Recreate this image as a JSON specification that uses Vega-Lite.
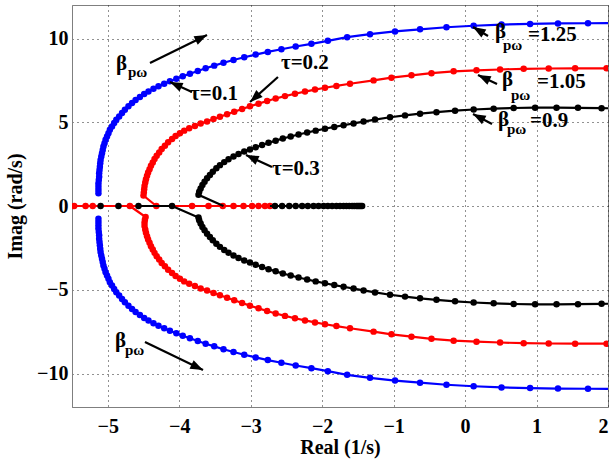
{
  "$schema": "https://vega.github.io/schema/vega-lite/v6.json",
  "width": 536,
  "height": 402,
  "autosize": "none",
  "padding": {"left": 72, "top": 5, "right": 4, "bottom": 52},
  "background": "white",
  "config": {
    "font": "Liberation Serif",
    "view": {"stroke": "#7f7f7f", "strokeWidth": 1},
    "axis": {
      "labelFont": "Liberation Serif", "labelFontWeight": "bold", "labelFontSize": 20, "labelColor": "#000",
      "titleFont": "Liberation Serif", "titleFontWeight": "bold", "titleFontSize": 20, "titleColor": "#000",
      "grid": true, "gridColor": "#222", "gridDash": [1, 4], "gridWidth": 1,
      "domainColor": "#7f7f7f", "ticks": false
    }
  },
  "datasets": {
    "loci": [
      {"s":"b","g":"bu","x":-5.13,"y":0.76},{"s":"b","g":"bu","x":-5.13,"y":0.95},{"s":"b","g":"bu","x":-5.13,"y":1.15},{"s":"b","g":"bu","x":-5.13,"y":1.35},{"s":"b","g":"bu","x":-5.125,"y":1.55},{"s":"b","g":"bu","x":-5.12,"y":1.75},{"s":"b","g":"bu","x":-5.12,"y":1.95},{"s":"b","g":"bu","x":-5.115,"y":2.15},{"s":"b","g":"bu","x":-5.11,"y":2.35},{"s":"b","g":"bu","x":-5.105,"y":2.55},{"s":"b","g":"bu","x":-5.1,"y":2.75},{"s":"b","g":"bu","x":-5.09,"y":2.95},{"s":"b","g":"bu","x":-5.08,"y":3.15},{"s":"b","g":"bu","x":-5.07,"y":3.35},{"s":"b","g":"bu","x":-5.06,"y":3.55},{"s":"b","g":"bu","x":-5.045,"y":3.75},{"s":"b","g":"bu","x":-5.03,"y":3.95},{"s":"b","g":"bu","x":-5.01,"y":4.15},{"s":"b","g":"bu","x":-4.99,"y":4.35},{"s":"b","g":"bu","x":-4.97,"y":4.55},{"s":"b","g":"bu","x":-4.94,"y":4.75},{"s":"b","g":"bu","x":-4.91,"y":4.95},{"s":"b","g":"bu","x":-4.88,"y":5.15},{"s":"b","g":"bu","x":-4.84,"y":5.35},{"s":"b","g":"bu","x":-4.8,"y":5.55},{"s":"b","g":"bu","x":-4.76,"y":5.75},{"s":"b","g":"bu","x":-4.71,"y":5.95},{"s":"b","g":"bu","x":-4.66,"y":6.15},{"s":"b","g":"bu","x":-4.61,"y":6.33},{"s":"b","g":"bu","x":-4.55,"y":6.51},{"s":"b","g":"bu","x":-4.49,"y":6.68},{"s":"b","g":"bu","x":-4.43,"y":6.84},{"s":"b","g":"bu","x":-4.36,"y":7.0},{"s":"b","g":"bu","x":-4.29,"y":7.15},{"s":"b","g":"bu","x":-4.21,"y":7.3},{"s":"b","g":"bu","x":-4.13,"y":7.45},{"s":"b","g":"bu","x":-4.04,"y":7.6},{"s":"b","g":"bu","x":-3.95,"y":7.75},{"s":"b","g":"bu","x":-3.85,"y":7.9},{"s":"b","g":"bu","x":-3.74,"y":8.06},{"s":"b","g":"bu","x":-3.63,"y":8.22},{"s":"b","g":"bu","x":-3.51,"y":8.38},{"s":"b","g":"bu","x":-3.38,"y":8.55},{"s":"b","g":"bu","x":-3.24,"y":8.72},{"s":"b","g":"bu","x":-3.09,"y":8.88},{"s":"b","g":"bu","x":-2.93,"y":9.04},{"s":"b","g":"bu","x":-2.76,"y":9.2},{"s":"b","g":"bu","x":-2.57,"y":9.36},{"s":"b","g":"bu","x":-2.37,"y":9.52},{"s":"b","g":"bu","x":-2.15,"y":9.68},{"s":"b","g":"bu","x":-1.92,"y":9.86},{"s":"b","g":"bu","x":-1.65,"y":10.08},{"s":"b","g":"bu","x":-1.33,"y":10.26},{"s":"b","g":"bu","x":-0.98,"y":10.42},{"s":"b","g":"bu","x":-0.63,"y":10.55},{"s":"b","g":"bu","x":-0.26,"y":10.67},{"s":"b","g":"bu","x":0.12,"y":10.76},{"s":"b","g":"bu","x":0.51,"y":10.83},{"s":"b","g":"bu","x":0.91,"y":10.87},{"s":"b","g":"bu","x":1.3,"y":10.9},{"s":"b","g":"bu","x":1.72,"y":10.91},{"s":"b","g":"bu","x":2.12,"y":10.92},

      {"s":"b","g":"bl","x":-5.13,"y":-0.76},{"s":"b","g":"bl","x":-5.13,"y":-0.95},{"s":"b","g":"bl","x":-5.13,"y":-1.15},{"s":"b","g":"bl","x":-5.13,"y":-1.35},{"s":"b","g":"bl","x":-5.125,"y":-1.55},{"s":"b","g":"bl","x":-5.12,"y":-1.75},{"s":"b","g":"bl","x":-5.12,"y":-1.95},{"s":"b","g":"bl","x":-5.115,"y":-2.15},{"s":"b","g":"bl","x":-5.11,"y":-2.35},{"s":"b","g":"bl","x":-5.105,"y":-2.55},{"s":"b","g":"bl","x":-5.1,"y":-2.75},{"s":"b","g":"bl","x":-5.09,"y":-2.95},{"s":"b","g":"bl","x":-5.08,"y":-3.15},{"s":"b","g":"bl","x":-5.07,"y":-3.35},{"s":"b","g":"bl","x":-5.06,"y":-3.55},{"s":"b","g":"bl","x":-5.045,"y":-3.75},{"s":"b","g":"bl","x":-5.03,"y":-3.95},{"s":"b","g":"bl","x":-5.01,"y":-4.15},{"s":"b","g":"bl","x":-4.99,"y":-4.35},{"s":"b","g":"bl","x":-4.97,"y":-4.55},{"s":"b","g":"bl","x":-4.94,"y":-4.75},{"s":"b","g":"bl","x":-4.91,"y":-4.95},{"s":"b","g":"bl","x":-4.88,"y":-5.15},{"s":"b","g":"bl","x":-4.84,"y":-5.35},{"s":"b","g":"bl","x":-4.8,"y":-5.55},{"s":"b","g":"bl","x":-4.76,"y":-5.75},{"s":"b","g":"bl","x":-4.71,"y":-5.95},{"s":"b","g":"bl","x":-4.66,"y":-6.15},{"s":"b","g":"bl","x":-4.61,"y":-6.33},{"s":"b","g":"bl","x":-4.55,"y":-6.51},{"s":"b","g":"bl","x":-4.49,"y":-6.68},{"s":"b","g":"bl","x":-4.43,"y":-6.84},{"s":"b","g":"bl","x":-4.36,"y":-7.0},{"s":"b","g":"bl","x":-4.29,"y":-7.15},{"s":"b","g":"bl","x":-4.21,"y":-7.3},{"s":"b","g":"bl","x":-4.13,"y":-7.45},{"s":"b","g":"bl","x":-4.04,"y":-7.6},{"s":"b","g":"bl","x":-3.95,"y":-7.75},{"s":"b","g":"bl","x":-3.85,"y":-7.9},{"s":"b","g":"bl","x":-3.74,"y":-8.06},{"s":"b","g":"bl","x":-3.63,"y":-8.22},{"s":"b","g":"bl","x":-3.51,"y":-8.38},{"s":"b","g":"bl","x":-3.38,"y":-8.55},{"s":"b","g":"bl","x":-3.24,"y":-8.72},{"s":"b","g":"bl","x":-3.09,"y":-8.88},{"s":"b","g":"bl","x":-2.93,"y":-9.04},{"s":"b","g":"bl","x":-2.76,"y":-9.2},{"s":"b","g":"bl","x":-2.57,"y":-9.36},{"s":"b","g":"bl","x":-2.37,"y":-9.52},{"s":"b","g":"bl","x":-2.15,"y":-9.68},{"s":"b","g":"bl","x":-1.92,"y":-9.86},{"s":"b","g":"bl","x":-1.65,"y":-10.08},{"s":"b","g":"bl","x":-1.33,"y":-10.26},{"s":"b","g":"bl","x":-0.98,"y":-10.42},{"s":"b","g":"bl","x":-0.63,"y":-10.55},{"s":"b","g":"bl","x":-0.26,"y":-10.67},{"s":"b","g":"bl","x":0.12,"y":-10.76},{"s":"b","g":"bl","x":0.51,"y":-10.83},{"s":"b","g":"bl","x":0.91,"y":-10.87},{"s":"b","g":"bl","x":1.3,"y":-10.9},{"s":"b","g":"bl","x":1.72,"y":-10.91},{"s":"b","g":"bl","x":2.12,"y":-10.92},

      {"s":"r","g":"ra","x":-5.62,"y":0,"nd":1},{"s":"r","g":"ra","x":-5.47,"y":0},{"s":"r","g":"ra","x":-5.31,"y":0},{"s":"r","g":"ra","x":-5.21,"y":0},{"s":"r","g":"ra","x":-4.69,"y":0},{"s":"r","g":"ra","x":-4.32,"y":0},{"s":"r","g":"ra","x":-3.82,"y":0},{"s":"r","g":"ra","x":-3.59,"y":0},{"s":"r","g":"ra","x":-3.39,"y":0},{"s":"r","g":"ra","x":-3.24,"y":0},{"s":"r","g":"ra","x":-3.1,"y":0},{"s":"r","g":"ra","x":-2.98,"y":0},{"s":"r","g":"ra","x":-2.89,"y":0},{"s":"r","g":"ra","x":-2.8,"y":0},{"s":"r","g":"ra","x":-2.73,"y":0},

      {"s":"r","g":"ru","x":-4.32,"y":0,"nd":1},{"s":"r","g":"ru","x":-4.5,"y":0.62},{"s":"r","g":"ru","x":-4.495,"y":0.8},{"s":"r","g":"ru","x":-4.49,"y":1.0},{"s":"r","g":"ru","x":-4.485,"y":1.2},{"s":"r","g":"ru","x":-4.475,"y":1.4},{"s":"r","g":"ru","x":-4.465,"y":1.6},{"s":"r","g":"ru","x":-4.45,"y":1.8},{"s":"r","g":"ru","x":-4.435,"y":2.0},{"s":"r","g":"ru","x":-4.415,"y":2.2},{"s":"r","g":"ru","x":-4.395,"y":2.4},{"s":"r","g":"ru","x":-4.37,"y":2.6},{"s":"r","g":"ru","x":-4.345,"y":2.8},{"s":"r","g":"ru","x":-4.315,"y":3.0},{"s":"r","g":"ru","x":-4.28,"y":3.2},{"s":"r","g":"ru","x":-4.245,"y":3.4},{"s":"r","g":"ru","x":-4.2,"y":3.6},{"s":"r","g":"ru","x":-4.155,"y":3.8},{"s":"r","g":"ru","x":-4.1,"y":4.0},{"s":"r","g":"ru","x":-4.05,"y":4.18},{"s":"r","g":"ru","x":-3.99,"y":4.35},{"s":"r","g":"ru","x":-3.93,"y":4.5},{"s":"r","g":"ru","x":-3.86,"y":4.64},{"s":"r","g":"ru","x":-3.78,"y":4.78},{"s":"r","g":"ru","x":-3.7,"y":4.92},{"s":"r","g":"ru","x":-3.61,"y":5.05},{"s":"r","g":"ru","x":-3.52,"y":5.19},{"s":"r","g":"ru","x":-3.43,"y":5.33},{"s":"r","g":"ru","x":-3.33,"y":5.48},{"s":"r","g":"ru","x":-3.23,"y":5.63},{"s":"r","g":"ru","x":-3.12,"y":5.79},{"s":"r","g":"ru","x":-3.01,"y":5.95},{"s":"r","g":"ru","x":-2.89,"y":6.11},{"s":"r","g":"ru","x":-2.77,"y":6.27},{"s":"r","g":"ru","x":-2.65,"y":6.42},{"s":"r","g":"ru","x":-2.52,"y":6.56},{"s":"r","g":"ru","x":-2.38,"y":6.7},{"s":"r","g":"ru","x":-2.24,"y":6.83},{"s":"r","g":"ru","x":-2.1,"y":6.95},{"s":"r","g":"ru","x":-1.96,"y":7.06},{"s":"r","g":"ru","x":-1.8,"y":7.17},{"s":"r","g":"ru","x":-1.61,"y":7.3},{"s":"r","g":"ru","x":-1.28,"y":7.5},{"s":"r","g":"ru","x":-1.03,"y":7.66},{"s":"r","g":"ru","x":-0.75,"y":7.8},{"s":"r","g":"ru","x":-0.47,"y":7.93},{"s":"r","g":"ru","x":-0.16,"y":8.04},{"s":"r","g":"ru","x":0.16,"y":8.1},{"s":"r","g":"ru","x":0.49,"y":8.15},{"s":"r","g":"ru","x":0.82,"y":8.19},{"s":"r","g":"ru","x":1.17,"y":8.21},{"s":"r","g":"ru","x":1.54,"y":8.22},{"s":"r","g":"ru","x":1.98,"y":8.22},{"s":"r","g":"ru","x":2.4,"y":8.22},

      {"s":"r","g":"rl","x":-4.69,"y":0,"nd":1},{"s":"r","g":"rl","x":-4.47,"y":-0.66},{"s":"r","g":"rl","x":-4.48,"y":-0.82},{"s":"r","g":"rl","x":-4.485,"y":-1.0},{"s":"r","g":"rl","x":-4.485,"y":-1.2},{"s":"r","g":"rl","x":-4.475,"y":-1.4},{"s":"r","g":"rl","x":-4.465,"y":-1.6},{"s":"r","g":"rl","x":-4.45,"y":-1.8},{"s":"r","g":"rl","x":-4.435,"y":-2.0},{"s":"r","g":"rl","x":-4.415,"y":-2.2},{"s":"r","g":"rl","x":-4.395,"y":-2.4},{"s":"r","g":"rl","x":-4.37,"y":-2.6},{"s":"r","g":"rl","x":-4.345,"y":-2.8},{"s":"r","g":"rl","x":-4.315,"y":-3.0},{"s":"r","g":"rl","x":-4.28,"y":-3.2},{"s":"r","g":"rl","x":-4.245,"y":-3.4},{"s":"r","g":"rl","x":-4.2,"y":-3.6},{"s":"r","g":"rl","x":-4.155,"y":-3.8},{"s":"r","g":"rl","x":-4.1,"y":-4.0},{"s":"r","g":"rl","x":-4.05,"y":-4.18},{"s":"r","g":"rl","x":-3.99,"y":-4.35},{"s":"r","g":"rl","x":-3.93,"y":-4.5},{"s":"r","g":"rl","x":-3.86,"y":-4.64},{"s":"r","g":"rl","x":-3.78,"y":-4.78},{"s":"r","g":"rl","x":-3.7,"y":-4.92},{"s":"r","g":"rl","x":-3.61,"y":-5.05},{"s":"r","g":"rl","x":-3.52,"y":-5.19},{"s":"r","g":"rl","x":-3.43,"y":-5.33},{"s":"r","g":"rl","x":-3.33,"y":-5.48},{"s":"r","g":"rl","x":-3.23,"y":-5.63},{"s":"r","g":"rl","x":-3.12,"y":-5.79},{"s":"r","g":"rl","x":-3.01,"y":-5.95},{"s":"r","g":"rl","x":-2.89,"y":-6.11},{"s":"r","g":"rl","x":-2.77,"y":-6.27},{"s":"r","g":"rl","x":-2.65,"y":-6.42},{"s":"r","g":"rl","x":-2.52,"y":-6.56},{"s":"r","g":"rl","x":-2.38,"y":-6.7},{"s":"r","g":"rl","x":-2.24,"y":-6.83},{"s":"r","g":"rl","x":-2.1,"y":-6.95},{"s":"r","g":"rl","x":-1.96,"y":-7.06},{"s":"r","g":"rl","x":-1.8,"y":-7.17},{"s":"r","g":"rl","x":-1.61,"y":-7.3},{"s":"r","g":"rl","x":-1.28,"y":-7.5},{"s":"r","g":"rl","x":-1.03,"y":-7.66},{"s":"r","g":"rl","x":-0.75,"y":-7.8},{"s":"r","g":"rl","x":-0.47,"y":-7.93},{"s":"r","g":"rl","x":-0.16,"y":-8.04},{"s":"r","g":"rl","x":0.16,"y":-8.1},{"s":"r","g":"rl","x":0.49,"y":-8.15},{"s":"r","g":"rl","x":0.82,"y":-8.19},{"s":"r","g":"rl","x":1.17,"y":-8.21},{"s":"r","g":"rl","x":1.54,"y":-8.22},{"s":"r","g":"rl","x":1.98,"y":-8.22},{"s":"r","g":"rl","x":2.4,"y":-8.22},

      {"s":"k","g":"ka0","x":-5.1,"y":0},{"s":"k","g":"ka1","x":-4.85,"y":0},{"s":"k","g":"ka2","x":-4.57,"y":0},{"s":"k","g":"ka2","x":-4.1,"y":0},
      {"s":"k","g":"ka3","x":-2.73,"y":0,"nd":1},{"s":"k","g":"ka3","x":-2.66,"y":0},{"s":"k","g":"ka3","x":-2.56,"y":0},{"s":"k","g":"ka3","x":-2.46,"y":0},{"s":"k","g":"ka3","x":-2.37,"y":0},{"s":"k","g":"ka3","x":-2.28,"y":0},{"s":"k","g":"ka3","x":-2.2,"y":0},{"s":"k","g":"ka3","x":-2.12,"y":0},{"s":"k","g":"ka3","x":-2.05,"y":0},{"s":"k","g":"ka3","x":-1.98,"y":0},{"s":"k","g":"ka3","x":-1.92,"y":0},{"s":"k","g":"ka3","x":-1.86,"y":0},{"s":"k","g":"ka3","x":-1.8,"y":0},{"s":"k","g":"ka3","x":-1.75,"y":0},{"s":"k","g":"ka3","x":-1.7,"y":0},{"s":"k","g":"ka3","x":-1.66,"y":0},{"s":"k","g":"ka3","x":-1.62,"y":0},{"s":"k","g":"ka3","x":-1.58,"y":0},{"s":"k","g":"ka3","x":-1.55,"y":0},{"s":"k","g":"ka3","x":-1.52,"y":0},{"s":"k","g":"ka3","x":-1.5,"y":0},{"s":"k","g":"ka3","x":-1.48,"y":0},{"s":"k","g":"ka3","x":-1.46,"y":0},{"s":"k","g":"ka3","x":-1.44,"y":0},

      {"s":"k","g":"ku","x":-3.38,"y":0,"nd":1},{"s":"k","g":"ku","x":-3.73,"y":0.67},{"s":"k","g":"ku","x":-3.72,"y":0.85},{"s":"k","g":"ku","x":-3.7,"y":1.05},{"s":"k","g":"ku","x":-3.675,"y":1.25},{"s":"k","g":"ku","x":-3.645,"y":1.45},{"s":"k","g":"ku","x":-3.61,"y":1.65},{"s":"k","g":"ku","x":-3.57,"y":1.85},{"s":"k","g":"ku","x":-3.53,"y":2.05},{"s":"k","g":"ku","x":-3.48,"y":2.25},{"s":"k","g":"ku","x":-3.43,"y":2.44},{"s":"k","g":"ku","x":-3.37,"y":2.62},{"s":"k","g":"ku","x":-3.31,"y":2.79},{"s":"k","g":"ku","x":-3.24,"y":2.95},{"s":"k","g":"ku","x":-3.17,"y":3.1},{"s":"k","g":"ku","x":-3.09,"y":3.25},{"s":"k","g":"ku","x":-3.01,"y":3.38},{"s":"k","g":"ku","x":-2.93,"y":3.51},{"s":"k","g":"ku","x":-2.84,"y":3.64},{"s":"k","g":"ku","x":-2.75,"y":3.77},{"s":"k","g":"ku","x":-2.65,"y":3.9},{"s":"k","g":"ku","x":-2.55,"y":4.03},{"s":"k","g":"ku","x":-2.44,"y":4.15},{"s":"k","g":"ku","x":-2.33,"y":4.27},{"s":"k","g":"ku","x":-2.21,"y":4.39},{"s":"k","g":"ku","x":-2.09,"y":4.5},{"s":"k","g":"ku","x":-1.96,"y":4.61},{"s":"k","g":"ku","x":-1.83,"y":4.72},{"s":"k","g":"ku","x":-1.7,"y":4.82},{"s":"k","g":"ku","x":-1.56,"y":4.93},{"s":"k","g":"ku","x":-1.42,"y":5.04},{"s":"k","g":"ku","x":-1.26,"y":5.16},{"s":"k","g":"ku","x":-1.05,"y":5.3},{"s":"k","g":"ku","x":-0.84,"y":5.41},{"s":"k","g":"ku","x":-0.63,"y":5.51},{"s":"k","g":"ku","x":-0.4,"y":5.6},{"s":"k","g":"ku","x":-0.14,"y":5.69},{"s":"k","g":"ku","x":0.12,"y":5.76},{"s":"k","g":"ku","x":0.4,"y":5.81},{"s":"k","g":"ku","x":0.68,"y":5.85},{"s":"k","g":"ku","x":0.98,"y":5.87},{"s":"k","g":"ku","x":1.28,"y":5.87},{"s":"k","g":"ku","x":1.58,"y":5.86},{"s":"k","g":"ku","x":1.91,"y":5.84},{"s":"k","g":"ku","x":2.25,"y":5.82},

      {"s":"k","g":"kl","x":-4.1,"y":0,"nd":1},{"s":"k","g":"kl","x":-3.73,"y":-0.69},{"s":"k","g":"kl","x":-3.72,"y":-0.85},{"s":"k","g":"kl","x":-3.7,"y":-1.05},{"s":"k","g":"kl","x":-3.675,"y":-1.25},{"s":"k","g":"kl","x":-3.645,"y":-1.45},{"s":"k","g":"kl","x":-3.61,"y":-1.65},{"s":"k","g":"kl","x":-3.57,"y":-1.85},{"s":"k","g":"kl","x":-3.53,"y":-2.05},{"s":"k","g":"kl","x":-3.48,"y":-2.25},{"s":"k","g":"kl","x":-3.43,"y":-2.44},{"s":"k","g":"kl","x":-3.37,"y":-2.62},{"s":"k","g":"kl","x":-3.31,"y":-2.79},{"s":"k","g":"kl","x":-3.24,"y":-2.95},{"s":"k","g":"kl","x":-3.17,"y":-3.1},{"s":"k","g":"kl","x":-3.09,"y":-3.25},{"s":"k","g":"kl","x":-3.01,"y":-3.38},{"s":"k","g":"kl","x":-2.93,"y":-3.51},{"s":"k","g":"kl","x":-2.84,"y":-3.64},{"s":"k","g":"kl","x":-2.75,"y":-3.77},{"s":"k","g":"kl","x":-2.65,"y":-3.9},{"s":"k","g":"kl","x":-2.55,"y":-4.03},{"s":"k","g":"kl","x":-2.44,"y":-4.15},{"s":"k","g":"kl","x":-2.33,"y":-4.27},{"s":"k","g":"kl","x":-2.21,"y":-4.39},{"s":"k","g":"kl","x":-2.09,"y":-4.5},{"s":"k","g":"kl","x":-1.96,"y":-4.61},{"s":"k","g":"kl","x":-1.83,"y":-4.72},{"s":"k","g":"kl","x":-1.7,"y":-4.82},{"s":"k","g":"kl","x":-1.56,"y":-4.93},{"s":"k","g":"kl","x":-1.42,"y":-5.04},{"s":"k","g":"kl","x":-1.26,"y":-5.16},{"s":"k","g":"kl","x":-1.05,"y":-5.3},{"s":"k","g":"kl","x":-0.84,"y":-5.41},{"s":"k","g":"kl","x":-0.63,"y":-5.51},{"s":"k","g":"kl","x":-0.4,"y":-5.6},{"s":"k","g":"kl","x":-0.14,"y":-5.69},{"s":"k","g":"kl","x":0.12,"y":-5.76},{"s":"k","g":"kl","x":0.4,"y":-5.81},{"s":"k","g":"kl","x":0.68,"y":-5.85},{"s":"k","g":"kl","x":0.98,"y":-5.87},{"s":"k","g":"kl","x":1.28,"y":-5.87},{"s":"k","g":"kl","x":1.58,"y":-5.86},{"s":"k","g":"kl","x":1.91,"y":-5.84},{"s":"k","g":"kl","x":2.25,"y":-5.82}
    ],
    "arrows": [
      {"x":-4.409,"y":8.54,"tx":-3.611,"ty":10.21,"a":-26.2},
      {"x":-3.821,"y":6.81,"tx":-4.129,"ty":7.4,"a":-155.6},
      {"x":-2.618,"y":7.7,"tx":-3.009,"ty":6.21,"a":138.2},
      {"x":-2.702,"y":2.33,"tx":-3.065,"ty":3.04,"a":-155.2},
      {"x":0.321,"y":10.15,"tx":0.111,"ty":10.69,"a":-149},
      {"x":0.447,"y":7.28,"tx":0.181,"ty":7.82,"a":-154.7},
      {"x":0.377,"y":4.9,"tx":0.111,"ty":5.49,"a":-152.2},
      {"x":-4.479,"y":-8.12,"tx":-3.667,"ty":-9.79,"a":25.8}
    ],
    "labels": [
      {"t":"β","x":-4.884,"y":8.12},
      {"t":"τ=0.1","x":-3.849,"y":6.33},
      {"t":"τ=0.2","x":-2.576,"y":8.18},
      {"t":"τ=0.3","x":-2.702,"y":1.85},
      {"t":"β","x":0.419,"y":10.03},
      {"t":"=1.25","x":0.881,"y":9.85},
      {"t":"β","x":0.517,"y":7.16},
      {"t":"=1.05","x":1.006,"y":7.04},
      {"t":"β","x":0.461,"y":4.78},
      {"t":"=0.9","x":0.909,"y":4.72},
      {"t":"β","x":-4.898,"y":-8.42}
    ],
    "subs": [
      {"t":"pω","x":-4.716,"y":7.7},
      {"t":"pω","x":0.531,"y":9.31},
      {"t":"pω","x":0.643,"y":6.33},
      {"t":"pω","x":0.587,"y":4.3},
      {"t":"pω","x":-4.758,"y":-8.9}
    ]
  },
  "encoding": {
    "x": {"field": "x", "type": "quantitative", "title": "Real (1/s)",
          "scale": {"domain": [-5.5, 2], "nice": false, "zero": false},
          "axis": {"title": "Real (1/s)", "values": [-5, -4, -3, -2, -1, 0, 1, 2], "format": "d", "labelPadding": 9, "titlePadding": 1}},
    "y": {"field": "y", "type": "quantitative", "title": "Imag (rad/s)",
          "scale": {"domain": [-12, 12], "nice": false, "zero": false},
          "axis": {"title": "Imag (rad/s)", "values": [-10, -5, 0, 5, 10], "format": "d", "labelPadding": 4, "titlePadding": 11}}
  },
  "layer": [
    {
      "data": {"name": "loci"},
      "transform": [{"window": [{"op": "row_number", "as": "i"}]}, {"filter": "datum.s == 'b'"}],
      "layer": [
        {"mark": {"type": "line", "color": "#0000ff", "strokeWidth": 2.2, "clip": true},
         "encoding": {"detail": {"field": "g"}, "order": {"field": "i"}}},
        {"transform": [{"filter": "!datum.nd"}],
         "mark": {"type": "circle", "color": "#0000ff", "size": 42, "opacity": 1, "clip": true}}
      ]
    },
    {
      "data": {"name": "loci"},
      "transform": [{"window": [{"op": "row_number", "as": "i"}]}, {"filter": "datum.s == 'r'"}],
      "layer": [
        {"mark": {"type": "line", "color": "#ff0000", "strokeWidth": 2.2, "clip": true},
         "encoding": {"detail": {"field": "g"}, "order": {"field": "i"}}},
        {"transform": [{"filter": "!datum.nd"}],
         "mark": {"type": "circle", "color": "#ff0000", "size": 42, "opacity": 1, "clip": true}}
      ]
    },
    {
      "data": {"name": "loci"},
      "transform": [{"window": [{"op": "row_number", "as": "i"}]}, {"filter": "datum.s == 'k'"}],
      "layer": [
        {"mark": {"type": "line", "color": "#000000", "strokeWidth": 2.2, "clip": true},
         "encoding": {"detail": {"field": "g"}, "order": {"field": "i"}}},
        {"transform": [{"filter": "!datum.nd"}],
         "mark": {"type": "circle", "color": "#000000", "size": 42, "opacity": 1, "clip": true}}
      ]
    },
    {
      "data": {"name": "arrows"},
      "mark": {"type": "rule", "color": "#000", "strokeWidth": 2.2},
      "encoding": {"x2": {"field": "tx"}, "y2": {"field": "ty"}}
    },
    {
      "data": {"name": "arrows"},
      "mark": {"type": "point", "shape": "M0,0L-2,-0.75L-2,0.75Z", "filled": true, "color": "#000", "opacity": 1, "size": 160},
      "encoding": {
        "x": {"field": "tx", "type": "quantitative", "title": "Real (1/s)"},
        "y": {"field": "ty", "type": "quantitative", "title": "Imag (rad/s)"},
        "angle": {"field": "a", "type": "quantitative", "scale": null}
      }
    },
    {
      "data": {"name": "labels"},
      "mark": {"type": "text", "align": "left", "baseline": "alphabetic", "font": "Liberation Serif", "fontWeight": "bold", "fontSize": 21, "color": "#000"},
      "encoding": {"text": {"field": "t"}}
    },
    {
      "data": {"name": "subs"},
      "mark": {"type": "text", "align": "left", "baseline": "alphabetic", "font": "Liberation Serif", "fontWeight": "bold", "fontSize": 15, "color": "#000"},
      "encoding": {"text": {"field": "t"}}
    }
  ]
}
